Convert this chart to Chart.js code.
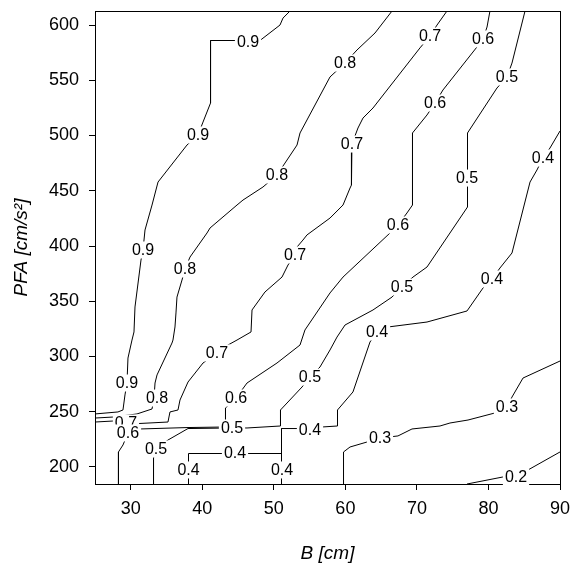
<!DOCTYPE html>
<html>
<head>
<meta charset="utf-8">
<script src="https://cdn.jsdelivr.net/npm/chart.js@4.4.1/dist/chart.umd.min.js"></script>
<style>
  html, body { margin: 0; padding: 0; background: #fff; }
  canvas { display: block; }
</style>
</head>
<body>
<canvas id="c" width="576" height="568"></canvas>
<script>
// Axis ticks
const B_TICKS = [30, 40, 50, 60, 70, 80, 90];
const PFA_TICKS = [200, 250, 300, 350, 400, 450, 500, 550, 600];
const B_RANGE = [25, 90];
const PFA_RANGE = [184.6, 612.7];

// Contour levels, one per traced line (0.4 has two separate pieces)
const LEVELS = [0.9, 0.8, 0.7, 0.6, 0.5, 0.4, 0.4, 0.3, 0.2];

// Contour paths as [B, PFA] vertices
const level09 = [[52.26,612.7],[51.28,606.3],[50.86,600.0],[48.06,586.0],[41.15,586.0],[41.15,529.4],[40.10,512.2],[39.40,500.5],[37.86,491.4],[33.81,457.9],[32.97,437.1],[31.99,414.5],[31.71,396.4],[31.43,387.3],[30.59,344.8],[30.45,322.2],[30.17,314.9],[29.61,298.6],[29.47,276.0],[29.19,265.2],[28.91,251.6],[28.21,249.8],[25.0,248.0]];
const level08 = [[66.52,612.7],[64.14,592.8],[61.62,577.4],[59.95,565.6],[57.85,553.0],[53.66,502.3],[53.24,491.4],[51.56,475.1],[50.44,464.3],[48.48,453.4],[45.69,441.6],[44.85,437.1],[41.08,416.3],[40.66,411.8],[38.28,390.0],[37.58,379.2],[37.16,369.2],[36.46,353.8],[36.32,339.4],[36.18,326.7],[35.90,314.9],[35.76,312.2],[33.67,283.3],[33.39,276.0],[33.25,262.4],[32.97,252.5],[30.87,248.0],[27.52,245.2],[25.0,244.3]];
const level07 = [[74.20,612.7],[72.81,600.0],[71.83,590.1],[70.43,579.3],[63.86,524.9],[62.46,515.8],[61.76,506.8],[60.92,492.3],[60.85,484.2],[60.85,455.2],[60.65,452.5],[59.67,437.1],[57.85,425.3],[54.63,410.0],[54.07,405.4],[53.24,399.1],[52.96,391.9],[51.98,382.8],[51.14,371.9],[48.76,358.4],[46.95,342.1],[46.81,322.2],[44.85,314.9],[43.59,310.4],[42.05,303.2],[40.10,294.1],[38.00,276.9],[36.88,260.6],[36.60,251.6],[35.48,249.8],[35.20,240.7],[31.01,239.3],[29.33,239.3],[27.52,241.6],[25.0,240.7]];
const level06 = [[80.21,612.7],[79.80,598.2],[79.24,587.4],[78.40,580.2],[73.64,541.2],[72.53,529.4],[71.41,518.6],[69.38,502.3],[69.38,437.1],[68.61,429.9],[67.35,419.0],[66.24,411.8],[59.67,371.9],[57.85,357.5],[54.35,324.0],[53.66,310.4],[50.44,294.1],[46.25,276.0],[44.71,262.4],[43.24,253.4],[43.24,236.2],[38.00,235.7],[31.29,234.4],[29.61,230.8],[28.91,219.9],[28.28,213.6],[28.28,184.6]];
const level05 = [[85.11,612.7],[83.29,565.6],[82.59,553.0],[81.19,543.0],[77.07,502.3],[77.07,461.5],[77.07,435.3],[71.41,381.0],[69.45,371.9],[67.91,362.9],[66.52,353.8],[63.86,342.1],[59.95,328.5],[58.83,317.6],[57.85,305.9],[56.45,290.5],[55.05,281.4],[53.94,272.4],[50.93,251.6],[50.93,237.1],[46.25,235.3],[44.15,235.3],[38.00,234.8],[35.20,224.4],[33.53,216.3],[33.18,208.1],[33.18,184.6]];
const level04 = [[90.00,504.1],[88.60,488.7],[87.62,479.6],[86.78,468.8],[85.81,457.9],[83.29,393.7],[81.61,380.1],[80.49,370.1],[79.24,362.0],[77.00,341.2],[71.41,331.2],[65.96,326.7],[64.42,322.2],[63.44,313.1],[61.06,267.9],[58.90,251.6],[58.90,237.1],[56.73,236.2],[55.05,233.5],[53.38,234.8],[51.07,234.8],[51.07,184.6]];
const level04b = [[38.07,184.6],[38.07,197.3],[38.07,212.2],[44.57,212.2],[51.07,212.2]];
const level03 = [[59.74,184.6],[59.74,213.6],[60.65,218.1],[63.02,222.6],[64.84,226.2],[67.35,228.1],[69.31,234.4],[73.23,237.1],[74.62,239.8],[77.14,242.5],[80.91,248.9],[82.59,254.3],[83.29,263.3],[84.83,280.5],[90.00,295.9]];
const level02 = [[77.00,184.6],[82.05,191.0],[83.85,191.0],[85.53,197.3],[90.00,213.6]];

// Where each contour carries its inline value label
const marks09 = [[46.39,584.7],[39.40,500.5],[31.71,396.4],[29.47,276.0]];
const marks08 = [[59.95,565.6],[50.44,464.3],[37.58,379.2],[33.67,262.4]];
const marks07 = [[71.83,590.1],[60.92,492.3],[52.96,391.9],[42.05,303.2],[29.33,239.8]];
const marks06 = [[79.24,587.4],[72.53,529.4],[67.35,419.0],[44.71,262.4],[29.61,230.8]];
const marks05 = [[82.59,553.0],[77.00,461.5],[67.91,362.9],[55.05,281.4],[44.15,235.3],[33.53,216.3]];
const marks04 = [[87.62,479.6],[80.49,370.1],[64.42,322.2],[55.05,233.5],[51.14,197.3]];
const marks04b = [[38.07,197.3],[44.57,212.7]];
const marks03 = [[64.84,226.2],[82.59,254.3]];
const marks02 = [[83.85,191.0]];

const PATHS = [level09, level08, level07, level06, level05, level04, level04b, level03, level02];
const MARKS = [marks09, marks08, marks07, marks06, marks05, marks04, marks04b, marks03, marks02];

const FONT = '"Liberation Sans", Arial, Helvetica, sans-serif';

// Plot frame under the lines, value labels on top of everything
const contourDecor = {
  id: 'contourDecor',
  beforeDatasetsDraw(chart) {
    const { ctx, chartArea: a } = chart;
    ctx.save();
    ctx.strokeStyle = '#000';
    ctx.lineWidth = 1;
    ctx.strokeRect(Math.round(a.left) + 0.5, Math.round(a.top) + 0.5,
                   Math.round(a.right - a.left), Math.round(a.bottom - a.top));
    ctx.restore();
  },
  afterDatasetsDraw(chart) {
    const { ctx } = chart;
    const xs = chart.scales.x, ys = chart.scales.y;
    ctx.save();
    ctx.font = '16px ' + FONT;
    ctx.textAlign = 'center';
    ctx.textBaseline = 'middle';
    chart.data.datasets.forEach(ds => {
      const txt = ds.level.toFixed(1);
      const w = ctx.measureText(txt).width;
      ds.labelAt.forEach(([x, y]) => {
        const px = xs.getPixelForValue(x);
        const py = ys.getPixelForValue(y);
        ctx.fillStyle = '#fff';
        ctx.fillRect(px - w / 2 - 2, py - 8.5, w + 4, 17);
        ctx.fillStyle = '#000';
        ctx.fillText(txt, px, py + 1);
      });
    });
    ctx.restore();
  }
};

const datasets = PATHS.map((path, i) => ({
  data: path.map(([x, y]) => ({ x, y })),
  level: LEVELS[i],
  labelAt: MARKS[i],
  showLine: true,
  borderColor: '#000',
  borderWidth: 1,
  pointRadius: 0,
  pointHoverRadius: 0,
  fill: false,
  tension: 0
}));

new Chart(document.getElementById('c'), {
  type: 'scatter',
  data: { datasets },
  options: {
    responsive: false,
    devicePixelRatio: 1,
    animation: false,
    events: [],
    layout: { padding: { left: 0, top: 11, right: 16, bottom: 0 } },
    plugins: { legend: { display: false }, tooltip: { enabled: false } },
    scales: {
      x: {
        type: 'linear',
        min: B_RANGE[0],
        max: B_RANGE[1],
        afterBuildTicks: s => { s.ticks = B_TICKS.map(v => ({ value: v })); },
        afterFit: s => { s.height = 84; s.paddingLeft = 0; s.paddingRight = 0; },
        ticks: { color: '#000', font: { family: FONT, size: 18 }, padding: 8, maxRotation: 0, autoSkip: false },
        grid: { drawOnChartArea: false, drawTicks: true, tickLength: 6, color: '#000', tickColor: '#000', lineWidth: 1 },
        border: { display: false },
        title: { display: true, text: 'B [cm]', color: '#000',
                 font: { family: FONT, size: 19, style: 'italic' }, padding: { top: 0, bottom: 3 } }
      },
      y: {
        type: 'linear',
        min: PFA_RANGE[0],
        max: PFA_RANGE[1],
        afterBuildTicks: s => { s.ticks = PFA_TICKS.map(v => ({ value: v })); },
        afterFit: s => { s.width = 95; s.paddingTop = 0; s.paddingBottom = 0; },
        ticks: { color: '#000', font: { family: FONT, size: 18 }, padding: 10, autoSkip: false },
        grid: { drawOnChartArea: false, drawTicks: true, tickLength: 6, color: '#000', tickColor: '#000', lineWidth: 1 },
        border: { display: false },
        title: { display: true, text: 'PFA [cm/s²]', color: '#000',
                 font: { family: FONT, size: 19, style: 'italic' }, padding: { top: 10, bottom: 0 } }
      }
    }
  },
  plugins: [contourDecor]
});
</script>
</body>
</html>
